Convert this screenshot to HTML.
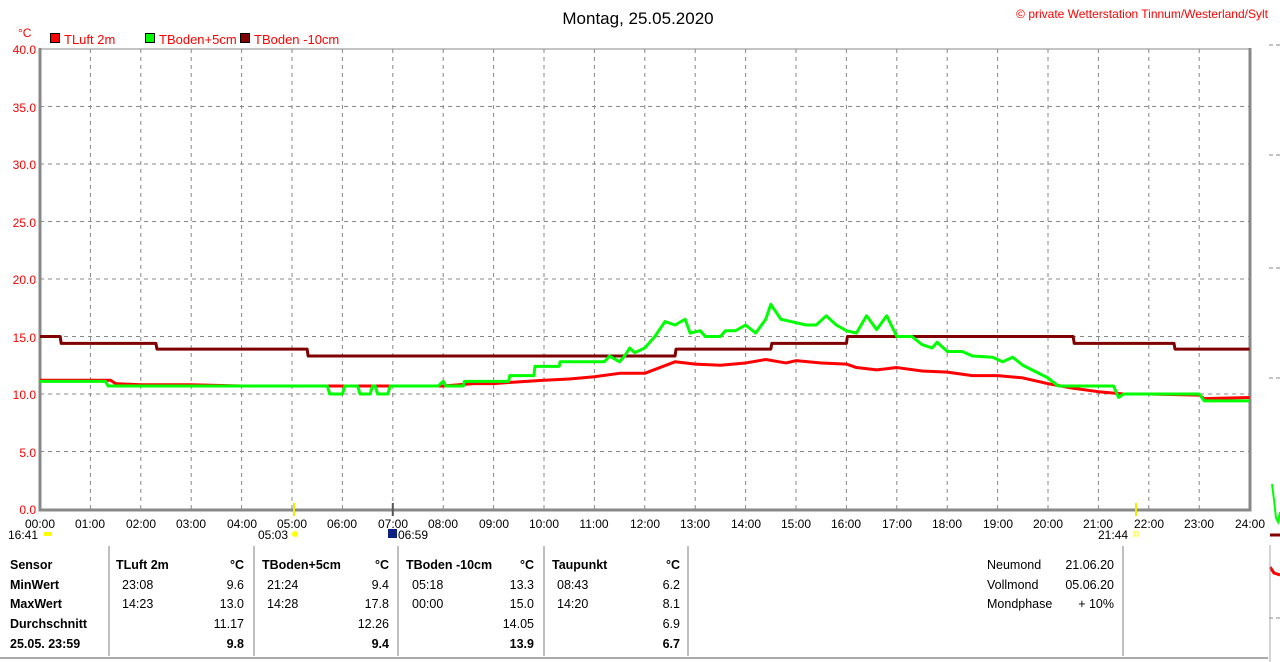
<!DOCTYPE html>
<html><head><meta charset="utf-8"><style>
body{margin:0;background:#fff;width:1280px;height:662px;overflow:hidden;font-family:"Liberation Sans",sans-serif}
svg{display:block}
</style></head><body>
<svg width="1280" height="662" viewBox="0 0 1280 662" font-family="Liberation Sans, sans-serif">
<text x="638" y="24" font-size="17" text-anchor="middle" fill="#000">Montag, 25.05.2020</text>
<text x="1268" y="18" font-size="12" text-anchor="end" fill="#f00">© private Wetterstation Tinnum/Westerland/Sylt</text>
<text x="18" y="37" font-size="12" fill="#f00">°C</text>
<rect x="50.5" y="33.5" width="9" height="9" fill="#f00" stroke="#000"/>
<text x="64" y="44" font-size="13" fill="#f00">TLuft 2m</text>
<rect x="145.5" y="33.5" width="9" height="9" fill="#0f0" stroke="#000"/>
<text x="159" y="44" font-size="13" fill="#f00">TBoden+5cm</text>
<rect x="240.5" y="33.5" width="9" height="9" fill="#800000" stroke="#000"/>
<text x="254" y="44" font-size="13" fill="#f00">TBoden -10cm</text>
<g stroke="#888" stroke-dasharray="4,4" stroke-width="1">
<path d="M40 106.5H1250M40 164H1250M40 221.5H1250M40 279H1250M40 336.5H1250M40 394H1250M40 451.5H1250"/>
<path d="M90.4 49V509M140.8 49V509M191.2 49V509M241.6 49V509M292 49V509M342.4 49V509M392.8 49V509M443.2 49V509M493.6 49V509M544 49V509M594.4 49V509M644.8 49V509M695.2 49V509M745.6 49V509M796 49V509M846.4 49V509M896.8 49V509M947.2 49V509M997.6 49V509M1048 49V509M1098.4 49V509M1148.8 49V509M1199.2 49V509"/>
</g>
<path d="M40 49H1250" stroke="#888" stroke-width="1"/>
<path d="M40 48V510H1250V48" stroke="#888" stroke-width="3" fill="none"/>
<g font-size="12" fill="#f00" text-anchor="end">
<text x="36" y="54">40.0</text><text x="36" y="112">35.0</text><text x="36" y="169">30.0</text><text x="36" y="227">25.0</text><text x="36" y="284">20.0</text><text x="36" y="342">15.0</text><text x="36" y="399">10.0</text><text x="36" y="457">5.0</text><text x="36" y="514">0.0</text>
</g>
<g font-size="12" fill="#000" text-anchor="middle">
<text x="40" y="528">00:00</text><text x="90" y="528">01:00</text><text x="141" y="528">02:00</text><text x="191" y="528">03:00</text><text x="242" y="528">04:00</text><text x="292" y="528">05:00</text><text x="342" y="528">06:00</text><text x="393" y="528">07:00</text><text x="443" y="528">08:00</text><text x="494" y="528">09:00</text><text x="544" y="528">10:00</text><text x="594" y="528">11:00</text><text x="645" y="528">12:00</text><text x="695" y="528">13:00</text><text x="746" y="528">14:00</text><text x="796" y="528">15:00</text><text x="846" y="528">16:00</text><text x="897" y="528">17:00</text><text x="947" y="528">18:00</text><text x="998" y="528">19:00</text><text x="1048" y="528">20:00</text><text x="1098" y="528">21:00</text><text x="1149" y="528">22:00</text><text x="1199" y="528">23:00</text><text x="1250" y="528">24:00</text>
</g>
<g font-size="12" fill="#000">
<text x="8" y="539">16:41</text><rect x="44" y="532" width="8" height="4" fill="#ff0"/>
<text x="258" y="539">05:03</text><circle cx="295" cy="534" r="3" fill="#ff0"/>
<rect x="388" y="529" width="9" height="9" fill="#102080"/><text x="398" y="539">06:59</text>
<text x="1098" y="539">21:44</text><rect x="1134" y="532" width="4" height="4" fill="none" stroke="#ff0"/>
</g>
<path d="M294 503V516M1136 503V516" stroke="#ee0" stroke-width="2"/>
<path d="M392.8 503V516" stroke="#555" stroke-width="2"/>
<g transform="translate(40,509) scale(50.4,-11.5)" fill="none" stroke-width="3" vector-effect="non-scaling-stroke" stroke-linejoin="round">
<polyline vector-effect="non-scaling-stroke" stroke="#f00" stroke-width="3" points="0,11.2 1.4,11.2 1.5,10.9 2,10.8 3,10.8 4,10.7 5,10.7 6,10.7 7,10.7 8,10.7 8.6,10.9 9,10.9 9.3,11.0 10,11.2 10.5,11.3 11,11.5 11.5,11.8 12,11.8 12.3,12.3 12.6,12.8 13,12.6 13.5,12.5 14,12.7 14.4,13.0 14.8,12.7 15,12.9 15.5,12.7 16,12.6 16.2,12.3 16.6,12.1 17,12.3 17.5,12.0 18,11.9 18.5,11.6 19,11.6 19.5,11.4 20,10.9 20.5,10.5 21,10.2 21.5,10.0 22,10.0 23,9.9 23.1,9.6 24,9.7"/>
<polyline vector-effect="non-scaling-stroke" stroke="#800000" stroke-width="3" points="0,15.0 0.4,15.0 0.42,14.4 2.3,14.4 2.32,13.9 5.3,13.9 5.32,13.3 12.6,13.3 12.62,13.9 14.5,13.9 14.52,14.4 16.0,14.4 16.02,15.0 20.5,15.0 20.52,14.4 22.5,14.4 22.52,13.9 24,13.9"/>
<polyline vector-effect="non-scaling-stroke" stroke="#0f0" stroke-width="3" points="0,11.1 1.3,11.1 1.35,10.7 5.7,10.7 5.75,10.0 6.0,10.0 6.05,10.7 6.3,10.7 6.35,10.0 6.55,10.0 6.6,10.7 6.65,10.7 6.7,10.0 6.9,10.0 6.95,10.7 7.9,10.7 8.0,11.1 8.05,10.7 8.4,10.7 8.42,11.1 9.3,11.1 9.32,11.6 9.8,11.6 9.82,12.4 10.3,12.4 10.32,12.8 11.2,12.8 11.3,13.3 11.5,12.8 11.6,13.3 11.7,14.0 11.8,13.6 12.0,14.0 12.2,15.0 12.4,16.3 12.6,16.0 12.8,16.5 12.9,15.3 13.1,15.5 13.2,15.0 13.5,15.0 13.6,15.5 13.8,15.5 14.0,16.0 14.2,15.3 14.4,16.5 14.5,17.8 14.7,16.5 14.9,16.3 15.2,16.0 15.4,16.0 15.6,16.8 15.8,16.0 16.0,15.5 16.2,15.3 16.4,16.8 16.6,15.6 16.8,16.8 17.0,15.0 17.3,15.0 17.5,14.3 17.7,14.0 17.8,14.5 18.0,13.7 18.3,13.7 18.5,13.3 18.9,13.2 19.1,12.8 19.3,13.2 19.5,12.5 20.0,11.4 20.2,10.7 21.3,10.7 21.4,9.7 21.5,10.0 23.0,10.0 23.1,9.4 24,9.4"/>
</g>
<path d="M1272 484 L1274 500 L1276 518 L1278 522 L1280 512" stroke="#0f0" stroke-width="2" fill="none"/>
<path d="M1270 535H1280" stroke="#800000" stroke-width="3"/>
<path d="M1270 567 L1274 573 L1280 575" stroke="#f00" stroke-width="3" fill="none"/>
<path d="M1269 45H1280M1269 155H1280M1269 268H1280M1269 378H1280M1269 618H1280" stroke="#888" stroke-dasharray="4,3"/>
<path d="M1270 545V662" stroke="#aaa"/>
<g stroke="#aaa" stroke-width="1.5">
<path d="M109 546V656M254 546V656M398 546V656M544 546V656M688 546V656M1123 546V656"/>
<path d="M0 658H1268" stroke-width="2"/>
</g>
<g font-size="12.5" fill="#000">
<g font-weight="bold">
<text x="10" y="569">Sensor</text><text x="10" y="589">MinWert</text><text x="10" y="608">MaxWert</text><text x="10" y="628">Durchschnitt</text><text x="10" y="648">25.05. 23:59</text>
<text x="116" y="569">TLuft 2m</text><text x="244" y="569" text-anchor="end">°C</text>
<text x="262" y="569">TBoden+5cm</text><text x="389" y="569" text-anchor="end">°C</text>
<text x="406" y="569">TBoden -10cm</text><text x="534" y="569" text-anchor="end">°C</text>
<text x="552" y="569">Taupunkt</text><text x="680" y="569" text-anchor="end">°C</text>
<text x="244" y="648" text-anchor="end">9.8</text><text x="389" y="648" text-anchor="end">9.4</text><text x="534" y="648" text-anchor="end">13.9</text><text x="680" y="648" text-anchor="end">6.7</text>
</g>
<text x="122" y="589">23:08</text><text x="244" y="589" text-anchor="end">9.6</text>
<text x="122" y="608">14:23</text><text x="244" y="608" text-anchor="end">13.0</text>
<text x="244" y="628" text-anchor="end">11.17</text>
<text x="267" y="589">21:24</text><text x="389" y="589" text-anchor="end">9.4</text>
<text x="267" y="608">14:28</text><text x="389" y="608" text-anchor="end">17.8</text>
<text x="389" y="628" text-anchor="end">12.26</text>
<text x="412" y="589">05:18</text><text x="534" y="589" text-anchor="end">13.3</text>
<text x="412" y="608">00:00</text><text x="534" y="608" text-anchor="end">15.0</text>
<text x="534" y="628" text-anchor="end">14.05</text>
<text x="557" y="589">08:43</text><text x="680" y="589" text-anchor="end">6.2</text>
<text x="557" y="608">14:20</text><text x="680" y="608" text-anchor="end">8.1</text>
<text x="680" y="628" text-anchor="end">6.9</text>
<text x="987" y="569">Neumond</text><text x="1114" y="569" text-anchor="end">21.06.20</text>
<text x="987" y="589">Vollmond</text><text x="1114" y="589" text-anchor="end">05.06.20</text>
<text x="987" y="608">Mondphase</text><text x="1114" y="608" text-anchor="end">+ 10%</text>
</g>
</svg>
</body></html>
